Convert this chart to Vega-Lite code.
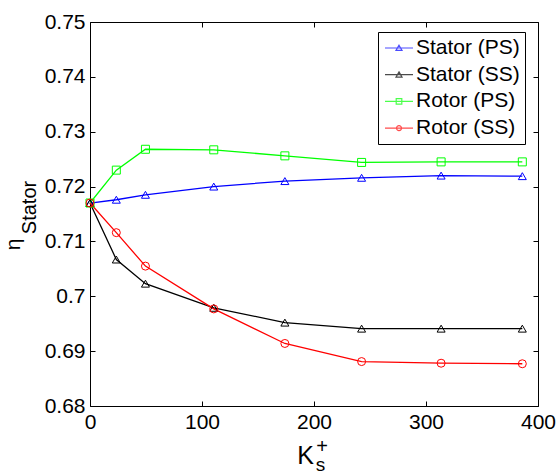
{
  "$schema": "https://vega.github.io/schema/vega-lite/v6.json",
  "width": 448,
  "height": 384,
  "autosize": "none",
  "padding": {"left": 90, "top": 22, "right": 20, "bottom": 69},
  "background": "white",
  "config": {
    "font": "Liberation Sans",
    "view": {"stroke": "black", "strokeWidth": 1},
    "axis": {"grid": false, "domain": false, "labelFontSize": 21, "labelColor": "black", "tickColor": "black", "tickSize": -5, "tickWidth": 1, "labelFlush": false, "labelOverlap": false, "titleColor": "black", "titleFontWeight": "normal", "titleFont": "Liberation Sans"}
  },
  "data": {"values": [
    {"series": "Stator (PS)", "k": 0, "eta": 0.7170},
    {"series": "Stator (PS)", "k": 23.5, "eta": 0.7176},
    {"series": "Stator (PS)", "k": 49.5, "eta": 0.7185},
    {"series": "Stator (PS)", "k": 110.5, "eta": 0.7200},
    {"series": "Stator (PS)", "k": 174, "eta": 0.7210},
    {"series": "Stator (PS)", "k": 242.5, "eta": 0.7216},
    {"series": "Stator (PS)", "k": 313.5, "eta": 0.7220},
    {"series": "Stator (PS)", "k": 386, "eta": 0.7219},
    {"series": "Stator (SS)", "k": 0, "eta": 0.7170},
    {"series": "Stator (SS)", "k": 23.5, "eta": 0.7067},
    {"series": "Stator (SS)", "k": 49.5, "eta": 0.7023},
    {"series": "Stator (SS)", "k": 110.5, "eta": 0.6979},
    {"series": "Stator (SS)", "k": 174, "eta": 0.6952},
    {"series": "Stator (SS)", "k": 242.5, "eta": 0.6941},
    {"series": "Stator (SS)", "k": 313.5, "eta": 0.6941},
    {"series": "Stator (SS)", "k": 386, "eta": 0.6941},
    {"series": "Rotor (PS)", "k": 0, "eta": 0.7170},
    {"series": "Rotor (PS)", "k": 23.5, "eta": 0.7230},
    {"series": "Rotor (PS)", "k": 49.5, "eta": 0.7268},
    {"series": "Rotor (PS)", "k": 110.5, "eta": 0.7267},
    {"series": "Rotor (PS)", "k": 174, "eta": 0.7256},
    {"series": "Rotor (PS)", "k": 242.5, "eta": 0.7244},
    {"series": "Rotor (PS)", "k": 313.5, "eta": 0.7245},
    {"series": "Rotor (PS)", "k": 386, "eta": 0.7245},
    {"series": "Rotor (SS)", "k": 0, "eta": 0.7170},
    {"series": "Rotor (SS)", "k": 23.5, "eta": 0.7116},
    {"series": "Rotor (SS)", "k": 49.5, "eta": 0.7055},
    {"series": "Rotor (SS)", "k": 110.5, "eta": 0.6977},
    {"series": "Rotor (SS)", "k": 174, "eta": 0.6914},
    {"series": "Rotor (SS)", "k": 242.5, "eta": 0.6881},
    {"series": "Rotor (SS)", "k": 313.5, "eta": 0.6878},
    {"series": "Rotor (SS)", "k": 386, "eta": 0.6877}
  ]},
  "layer": [
    {
      "mark": {"type": "line", "strokeWidth": 1.3},
      "encoding": {
        "x": {"field": "k", "type": "quantitative", "scale": {"domain": [0, 400], "nice": false, "zero": false},
          "axis": {"orient": "bottom", "values": [0, 100, 200, 300, 400], "labelPadding": 10, "title": "K", "titleFontSize": 25, "titleX": 215, "titleY": 57, "titleAlign": "center", "titleBaseline": "alphabetic", "titleAngle": 0}},
        "y": {"field": "eta", "type": "quantitative", "scale": {"domain": [0.68, 0.75], "nice": false, "zero": false},
          "axis": {"orient": "left", "values": [0.68, 0.69, 0.7, 0.71, 0.72, 0.73, 0.74, 0.75], "format": ".2~f", "labelPadding": 10, "title": "η", "titleFontSize": 21, "titleX": -71, "titleY": 222, "titleAngle": 270, "titleAlign": "center", "titleBaseline": "alphabetic"}},
        "color": {"field": "series", "type": "nominal", "scale": {"domain": ["Stator (PS)", "Stator (SS)", "Rotor (PS)", "Rotor (SS)"], "range": ["#0000ff", "#000000", "#00ff00", "#ff0000"]}, "legend": null}
      }
    },
    {
      "mark": {"type": "point", "filled": false, "strokeWidth": 1, "opacity": 1},
      "encoding": {
        "x": {"field": "k", "type": "quantitative", "scale": {"domain": [0, 400], "nice": false, "zero": false},
          "axis": {"orient": "top", "values": [0, 100, 200, 300, 400], "labels": false, "title": "+", "titleFontSize": 20, "titleX": 231.5, "titleY": 430, "titleAlign": "center", "titleBaseline": "alphabetic", "titleAngle": 0}},
        "y": {"field": "eta", "type": "quantitative", "scale": {"domain": [0.68, 0.75], "nice": false, "zero": false},
          "axis": {"orient": "right", "values": [0.68, 0.69, 0.7, 0.71, 0.72, 0.73, 0.74, 0.75], "labels": false, "title": "Stator", "titleFontSize": 20, "titleX": -503, "titleY": 185, "titleAngle": 270, "titleAlign": "center", "titleBaseline": "alphabetic"}},
        "color": {"field": "series", "type": "nominal", "scale": {"domain": ["Stator (PS)", "Stator (SS)", "Rotor (PS)", "Rotor (SS)"], "range": ["#0000ff", "#000000", "#00ff00", "#ff0000"]}, "legend": null},
        "shape": {"field": "series", "type": "nominal", "scale": {"domain": ["Stator (PS)", "Stator (SS)", "Rotor (PS)", "Rotor (SS)"], "range": ["triangle-up", "triangle-up", "square", "circle"]}, "legend": null},
        "size": {"field": "series", "type": "nominal", "scale": {"domain": ["Stator (PS)", "Stator (SS)", "Rotor (PS)", "Rotor (SS)"], "range": [64, 64, 49, 36]}, "legend": null}
      }
    },
    {
      "transform": [{"filter": "datum.k < 0"}],
      "mark": {"type": "point", "filled": false, "strokeWidth": 1.2},
      "encoding": {
        "x": {"field": "k", "type": "quantitative", "scale": {"domain": [0, 400], "nice": false, "zero": false},
          "axis": {"orient": "bottom", "labels": false, "ticks": false, "domain": false, "title": "s", "titleFontSize": 19, "titleX": 230, "titleY": 64.5, "titleAlign": "center", "titleBaseline": "alphabetic", "titleAngle": 0}},
        "y": {"field": "eta", "type": "quantitative", "scale": {"domain": [0.68, 0.75], "nice": false, "zero": false}, "axis": null},
        "color": {"field": "series", "type": "nominal", "scale": {"domain": ["Stator (PS)", "Stator (SS)", "Rotor (PS)", "Rotor (SS)"], "range": ["#0000ff", "#000000", "#00ff00", "#ff0000"]},
          "legend": {"title": null, "orient": "none", "legendX": 288, "legendY": 10, "direction": "vertical", "strokeColor": "black", "fillColor": "white", "padding": 5, "labelFontSize": 21, "labelColor": "black", "labelOffset": 11, "rowPadding": 5.7, "symbolSize": 400, "symbolStrokeWidth": 1.2, "labelLimit": 300}},
        "shape": {"field": "series", "type": "nominal", "scale": {"domain": ["Stator (PS)", "Stator (SS)", "Rotor (PS)", "Rotor (SS)"], "range": [
          "M-0.9,0L1.9,0M0.5,-0.28L0.8,0.24L0.2,0.24Z",
          "M-0.9,0L1.9,0M0.5,-0.28L0.8,0.24L0.2,0.24Z",
          "M-0.9,0L1.9,0M0.22,-0.28L0.78,-0.28L0.78,0.28L0.22,0.28Z",
          "M-0.9,0L1.9,0M0.25,0A0.25,0.25 0 1,0 0.75,0A0.25,0.25 0 1,0 0.25,0Z"]},
          "legend": {"title": null, "orient": "none", "legendX": 288, "legendY": 10, "direction": "vertical", "strokeColor": "black", "fillColor": "white", "padding": 5, "labelFontSize": 21, "labelColor": "black", "labelOffset": 11, "rowPadding": 5.7, "symbolSize": 400, "symbolStrokeWidth": 1.2, "labelLimit": 300}}
      }
    }
  ],
  "resolve": {
    "scale": {"x": "independent", "y": "independent", "color": "independent", "shape": "independent", "size": "independent"},
    "axis": {"x": "independent", "y": "independent"}
  }
}
